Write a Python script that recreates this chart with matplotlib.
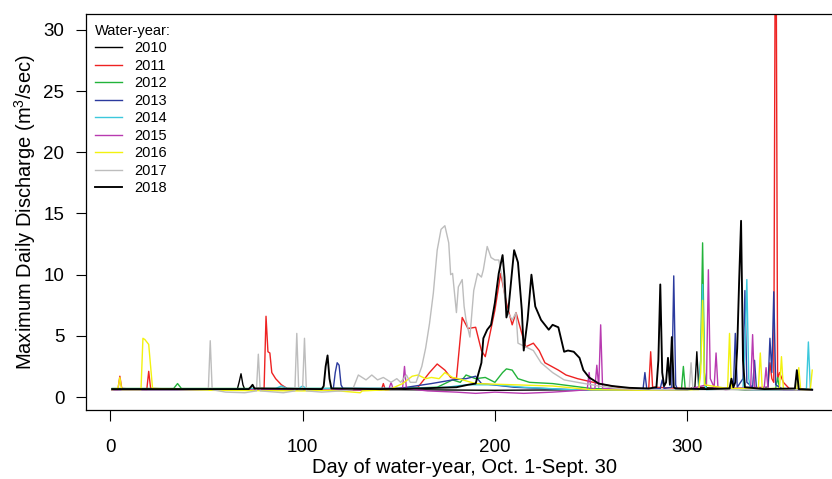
import matplotlib
matplotlib.use("Agg")
import matplotlib.pyplot as plt

plt.rcParams['font.family'] = ['Liberation Sans', 'DejaVu Sans']
plt.rcParams['mathtext.default'] = 'regular'

# daily maximum discharge, (day of water-year, m3/sec)
wy2010 = [(1, 0.6), (40, 0.6), (66, 0.6), (67, 1.2), (68, 1.9), (69, 1.0), (70, 0.6),
          (100, 0.6), (150, 0.6), (200, 0.55), (250, 0.6), (300, 0.6), (304, 0.8),
          (305, 3.7), (306, 0.8), (330, 0.6), (365, 0.6)]
wy2011 = [(1, 0.6), (4, 0.6), (5, 1.7), (6, 0.7), (19, 0.6), (20, 2.1), (21, 0.7),
          (50, 0.6), (80, 0.7), (81, 6.6), (82, 3.7), (83, 3.6), (84, 2.0), (86, 1.5),
          (89, 1.0), (92, 0.7), (120, 0.6), (141, 0.6), (142, 1.1), (143, 0.6),
          (160, 0.8), (166, 2.0), (170, 2.7), (174, 2.2), (177, 1.6), (180, 1.5),
          (183, 6.5), (186, 5.6), (190, 5.7), (193, 3.8), (195, 3.3), (200, 7.1),
          (203, 10.1), (206, 7.7), (209, 5.9), (211, 6.9), (214, 5.2), (216, 4.1),
          (220, 4.4), (223, 3.8), (226, 2.8), (233, 2.2), (237, 1.8), (243, 1.5),
          (254, 1.1), (264, 0.8), (275, 0.6), (280, 0.7), (281, 3.7), (282, 0.8),
          (300, 0.7), (320, 0.7), (342, 0.8), (343, 2.8), (344, 1.5), (345, 1.2),
          (346, 48.0), (347, 1.5), (348, 2.0), (350, 1.2), (353, 0.7), (365, 0.6)]
wy2012 = [(1, 0.7), (33, 0.7), (35, 1.1), (37, 0.7), (100, 0.7), (150, 0.7), (170, 0.8),
          (178, 1.4), (182, 1.2), (185, 1.8), (190, 1.5), (195, 1.6), (200, 1.2),
          (204, 2.0), (206, 2.3), (209, 2.2), (212, 1.5), (218, 1.2), (230, 1.1),
          (250, 0.7), (270, 0.6), (297, 0.6), (298, 2.5), (299, 0.6), (306, 0.7),
          (307, 3.0), (308, 12.6), (309, 2.0), (310, 0.7), (330, 0.6), (346, 0.7),
          (347, 1.6), (348, 0.7), (365, 0.6)]
wy2013 = [(1, 0.6), (60, 0.6), (100, 0.6), (116, 0.7), (117, 2.0), (118, 2.8), (119, 2.6),
          (120, 1.0), (121, 0.7), (150, 0.7), (167, 1.1), (178, 1.4), (185, 1.5),
          (190, 1.7), (193, 1.1), (210, 0.8), (240, 0.6), (277, 0.6), (278, 2.0),
          (279, 0.6), (286, 0.7), (287, 1.4), (288, 0.7), (292, 0.8), (293, 9.9),
          (294, 1.0), (295, 0.6), (324, 0.7), (325, 5.2), (326, 0.8), (329, 1.5),
          (330, 8.7), (331, 1.2), (334, 0.8), (335, 3.0), (336, 0.7), (342, 0.8),
          (343, 4.8), (344, 2.0), (345, 8.6), (346, 1.0), (350, 0.6), (365, 0.6)]
wy2014 = [(1, 0.65), (60, 0.65), (86, 0.7), (89, 0.9), (92, 0.7), (98, 0.7), (100, 0.9),
          (102, 0.7), (150, 0.7), (175, 0.8), (185, 1.0), (200, 1.0), (215, 0.8),
          (240, 0.6), (300, 0.6), (306, 0.7), (307, 3.0), (308, 9.2), (309, 1.0),
          (310, 0.6), (329, 0.7), (330, 4.0), (331, 9.6), (332, 1.5), (333, 0.6),
          (361, 0.6), (362, 0.7), (363, 4.5), (364, 0.7), (365, 0.6)]
wy2015 = [(1, 0.6), (60, 0.6), (100, 0.6), (140, 0.6), (145, 0.7), (146, 1.2), (147, 0.7),
          (152, 0.7), (153, 2.5), (154, 0.7), (165, 0.5), (180, 0.4), (190, 0.3),
          (200, 0.4), (215, 0.3), (230, 0.4), (240, 0.5), (248, 0.6), (249, 2.0),
          (250, 0.6), (252, 0.7), (253, 2.6), (254, 0.8), (255, 5.9), (256, 0.7),
          (270, 0.6), (300, 0.6), (310, 1.0), (311, 10.4), (312, 1.5), (314, 0.8),
          (315, 3.6), (316, 0.7), (320, 0.6), (333, 0.8), (334, 5.1), (335, 0.8),
          (340, 0.7), (341, 2.4), (342, 0.7), (350, 0.6), (365, 0.6)]
wy2016 = [(1, 0.6), (4, 0.7), (5, 1.6), (6, 0.6), (16, 0.6), (17, 4.8), (18, 4.7),
          (19, 4.5), (20, 4.3), (21, 2.5), (22, 0.7), (50, 0.55), (100, 0.5), (115, 0.55),
          (130, 0.35), (131, 0.5), (145, 0.6), (152, 1.1), (157, 1.7), (160, 1.8),
          (164, 1.5), (167, 1.6), (171, 1.5), (174, 2.0), (178, 1.6), (181, 1.5),
          (190, 1.1), (210, 1.0), (230, 0.9), (250, 0.6), (280, 0.55), (306, 0.6),
          (307, 2.0), (308, 7.9), (309, 1.0), (321, 0.7), (322, 5.2), (323, 0.7),
          (337, 0.7), (338, 3.6), (339, 0.7), (348, 0.7), (349, 3.3), (350, 0.7),
          (357, 0.6), (358, 2.4), (359, 0.6), (364, 0.6), (365, 2.2)]
wy2017 = [(1, 0.6), (40, 0.6), (51, 0.6), (52, 4.6), (53, 0.6), (60, 0.4), (70, 0.35),
          (76, 0.5), (77, 3.5), (78, 0.5), (90, 0.35), (96, 0.5), (97, 5.2), (98, 0.6),
          (100, 0.6), (101, 4.8), (102, 0.5), (110, 0.4), (120, 0.5), (126, 0.6),
          (129, 1.8), (133, 1.4), (136, 1.8), (139, 1.4), (142, 1.6), (146, 1.2),
          (149, 1.5), (151, 1.2), (154, 1.8), (156, 1.2), (159, 1.2), (162, 2.5),
          (164, 4.0), (166, 6.0), (168, 8.5), (170, 12.0), (172, 13.7), (174, 14.0),
          (176, 12.6), (177, 10.0), (178, 10.1), (180, 6.9), (181, 9.0), (183, 9.6),
          (184, 7.4), (185, 6.3), (187, 4.9), (189, 8.7), (191, 10.1), (193, 9.8),
          (194, 10.4), (196, 12.3), (198, 11.4), (200, 11.2), (202, 11.2), (204, 9.6),
          (206, 7.1), (209, 6.3), (211, 6.9), (212, 4.4), (216, 4.1), (220, 3.8),
          (224, 2.8), (230, 2.0), (236, 1.4), (243, 1.2), (254, 0.9), (264, 0.7),
          (280, 0.6), (301, 0.6), (302, 2.8), (303, 0.6), (330, 0.6), (365, 0.6)]
wy2018 = [(1, 0.65), (30, 0.65), (72, 0.65), (73, 0.8), (74, 1.0), (75, 0.7), (110, 0.65),
          (111, 0.9), (112, 2.5), (113, 3.4), (114, 1.5), (115, 0.7), (140, 0.65),
          (160, 0.7), (180, 0.8), (186, 1.0), (190, 1.1), (193, 2.8), (194, 4.8),
          (196, 5.5), (198, 5.9), (200, 7.7), (202, 10.1), (204, 11.6), (205, 9.8),
          (206, 6.5), (207, 7.1), (209, 10.4), (210, 12.0), (212, 11.0), (214, 7.1),
          (215, 3.8), (217, 6.3), (219, 10.0), (221, 7.4), (224, 6.3), (228, 5.5),
          (230, 5.9), (233, 5.7), (236, 3.7), (238, 3.8), (241, 3.7), (244, 3.2),
          (246, 2.2), (249, 1.6), (254, 1.1), (261, 0.9), (270, 0.75), (280, 0.7),
          (284, 0.8), (285, 3.0), (286, 9.2), (287, 2.0), (288, 0.9), (289, 1.2),
          (290, 3.2), (291, 1.0), (292, 4.9), (293, 0.8), (294, 0.7), (310, 0.65),
          (322, 0.7), (323, 1.5), (324, 0.8), (325, 1.2), (326, 4.0), (327, 9.5),
          (328, 14.4), (329, 3.0), (330, 0.8), (340, 0.65), (356, 0.7), (357, 2.2),
          (358, 0.65), (365, 0.6)]

years = ['2010', '2011', '2012', '2013', '2014', '2015', '2016', '2017', '2018']
series = [wy2010, wy2011, wy2012, wy2013, wy2014, wy2015, wy2016, wy2017, wy2018]
colors = ['black', '#EE2222', '#22B33A', '#2B3A9E', '#3CC8DC', '#B83AB0',
          '#F2F20F', '#BDBDBD', 'black']
widths = [1.0, 1.0, 1.0, 1.0, 1.0, 1.0, 1.0, 1.0, 1.35]

fig = plt.figure(figsize=(8.32, 4.79), dpi=100)
# right side of the box runs off the figure, as in the original
ax = fig.add_axes([86 / 832, 69 / 479, 757 / 832, 396 / 479])

for yr, pts, c, lw in zip(years, series, colors, widths):
    days, q = zip(*pts)
    ax.plot(days, q, color=c, lw=lw, label=yr)

ax.set_xlim(-12.6, 381)
ax.set_ylim(-1.06, 31.3)
ax.set_xticks([0, 100, 200, 300])
ax.set_yticks([0, 5, 10, 15, 20, 25, 30])
ax.tick_params(axis='x', direction='out', length=8, width=0.8, pad=13, labelsize=13.5)
ax.tick_params(axis='y', direction='out', length=7.5, width=0.8, pad=8, labelsize=13.5)
for s in ax.spines.values():
    s.set_linewidth(0.9)

ax.set_xlabel('Day of water-year, Oct. 1-Sept. 30', fontsize=14.5, labelpad=1)
ax.set_ylabel('Maximum Daily Discharge (m$^3$/sec)', fontsize=14.5, labelpad=4)

leg = ax.legend(title='Water-year:', loc='upper left', bbox_to_anchor=(0.0, 0.997),
                frameon=False, fontsize=10.5, title_fontsize=10.5, alignment='left',
                handlelength=1.9, handletextpad=0.8, labelspacing=0.24,
                borderaxespad=0.2)

fig.savefig('out.png', dpi=100)
